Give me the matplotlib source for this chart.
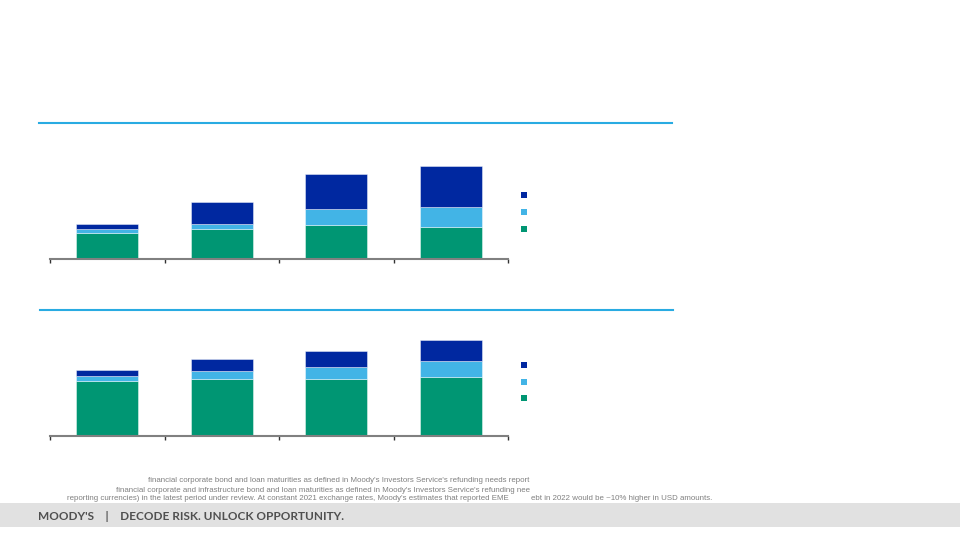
import matplotlib
matplotlib.use('Agg')
import matplotlib.pyplot as plt
import numpy as np
from matplotlib.patches import Rectangle
from matplotlib.lines import Line2D

# data (arbitrary units)
categories = ['', '', '', '']
top_green = [52, 60, 69, 65]
top_light = [8, 10, 32, 40]
top_dark = [11, 45, 69, 81]
bot_green = [111, 115, 115, 119]
bot_light = [9, 15, 24, 31]
bot_dark = [13, 25, 31, 42]

foot1 = "financial corporate bond and loan maturities as defined in Moody's Investors Service's refunding needs report"
foot2 = "financial corporate and infrastructure bond and loan maturities as defined in Moody's Investors Service's refunding nee"
foot3a = "reporting currencies) in the latest period under review. At constant 2021 exchange rates, Moody's estimates that reported EME"
foot3b = "ebt in 2022 would be ~10% higher in USD amounts."

DARK = '#0028a0'
LIGHT = '#42b4e6'
GREEN = '#009673'
W, H = 960, 540

fig = plt.figure(figsize=(9.6, 5.4), dpi=100)

def stacked(ax, green, light, dark):
    x = np.arange(len(green)) + 0.5
    g = np.array(green); l = np.array(light); d = np.array(dark)
    kw = dict(width=0.54, edgecolor=(1, 1, 1, 0.5), linewidth=0.6)
    ax.bar(x, g, color=GREEN, **kw)
    ax.bar(x, l, bottom=g, color=LIGHT, **kw)
    ax.bar(x, d, bottom=g + l, color=DARK, **kw)
    ax.set_xlim(0, 4)
    ax.set_ylim(0, 238.6)
    ax.set_xticks(range(5))
    ax.set_xticklabels([''] * 5)
    ax.set_yticks([])
    for s in ['top', 'right', 'left']:
        ax.spines[s].set_visible(False)
    ax.spines['bottom'].set_color('#808080')
    ax.spines['bottom'].set_linewidth(1.5)
    ax.tick_params(axis='x', direction='out', length=3, width=1, color='#333333')

ax1 = fig.add_axes([50 / W, 1 - 259.3 / H, 458 / W, 119.3 / H])
stacked(ax1, top_green, top_light, top_dark)
ax2 = fig.add_axes([50 / W, 1 - 436 / H, 458 / W, 119.3 / H])
stacked(ax2, bot_green, bot_light, bot_dark)

# title rules
for y, x0, x1 in [(123, 39, 672), (310, 40, 673)]:
    fig.add_artist(Line2D([x0 / W, x1 / W], [1 - y / H] * 2, color='#29abe2', lw=1.5))

# legend squares
for ys in [(195, 212, 229), (365, 382, 398)]:
    for y, c in zip(ys, [DARK, LIGHT, GREEN]):
        fig.add_artist(Rectangle(((524 - 3) / W, 1 - (y + 3) / H), 6 / W, 6 / H,
                                 facecolor=c, edgecolor='none'))

# footnotes
fcol = '#808080'
fs = 5.7
fig.text(529 / W, 1 - 480 / H, foot1, ha='right', va='center', fontsize=fs,
         color=fcol, family='Liberation Sans')
fig.text(530 / W, 1 - 490 / H, foot2, ha='right', va='center', fontsize=fs,
         color=fcol, family='Liberation Sans')
fig.text(67 / W, 1 - 499 / H, foot3a, ha='left', va='center', fontsize=fs,
         color=fcol, family='Liberation Sans')
fig.text(531 / W, 1 - 499 / H, foot3b, ha='left', va='center', fontsize=fs,
         color=fcol, family='Liberation Sans')

# footer band
fig.add_artist(Rectangle((0, 1 - 527 / H), 1, 24 / H, facecolor='#e1e1e1', edgecolor='none'))
fig.text(38 / W, 1 - 516 / H, "MOODY'S    |    DECODE RISK. UNLOCK OPPORTUNITY.",
         ha='left', va='center', fontsize=8.5, color='#505050', family='Lato',
         weight='bold')

fig.savefig('out.png', dpi=100)
